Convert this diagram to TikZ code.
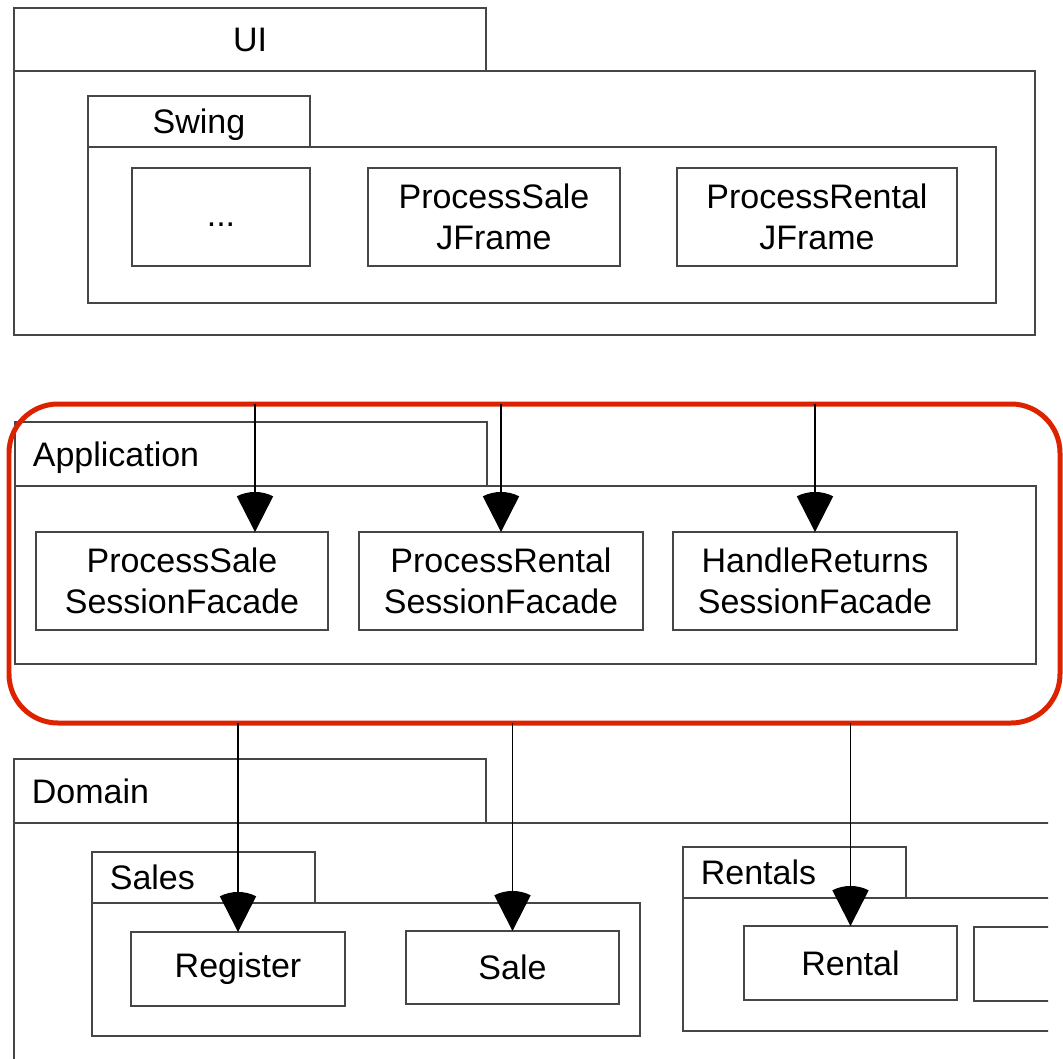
\documentclass[tikz,border=0pt]{standalone}
\usepackage{fontspec}
\setmainfont{Liberation Sans}
\usetikzlibrary{positioning}
\definecolor{hilite}{RGB}{221,34,0}
\definecolor{edgegray}{RGB}{70,70,70}
\newcommand\px{0.02cm}

% filled head with a rounded back
\pgfdeclarearrow{
  name = fan,
  setup code = {
    \pgfarrowssettipend{0pt}
    \pgfarrowssetbackend{-22.8pt}
    \pgfarrowssetlineend{-12pt}
    \pgfarrowshullpoint{0pt}{0pt}
    \pgfarrowsupperhullpoint{-22.8pt}{10.4pt}
  },
  drawing code = {
    \pgfpathmoveto{\pgfpointorigin}
    \pgfpathlineto{\pgfpointpolar{153}{22.8pt}}
    \pgfpatharc{153}{207}{22.8pt}
    \pgfpathclose
    \pgfusepathqfill
  }
}

% box size given in pixels of the sketch
\tikzset{sz/.style 2 args={minimum width=#1*\px, minimum height=#2*\px}}

\begin{document}
\begin{tikzpicture}[% one unit is one pixel of the sketch, y runs downwards
			x=\px, y=-\px,
			every node/.style={
				align=center,  		% so that "\\" breaks the class names
				font=\fontsize{19.35pt}{23.3pt}\selectfont
			},
			box/.style={draw=edgegray, line width=0.6pt, anchor=north west, inner sep=0pt, outer sep=0pt},
			pkgname/.style={inner sep=0pt, text height=13.9pt, text depth=0pt},	% centre = middle of the capitals
			focusbox/.style={draw=hilite, line width=0.1cm, rounded corners=0.98cm, anchor=north west, inner sep=0pt, outer sep=0pt},
			every edge/.style={draw,line width=0.6pt},
			>=fan
		]
		\useasboundingbox (0,0) rectangle (1063,1059);
		\begin{scope}
		\clip (0,0) rectangle (1048,1059);
		% UI
		\node[box,sz={472}{63}](uitab) at (14,8) {};
		\node[box,sz={1021}{264}](uibody) at (14,71) {};
		\node[pkgname](uiname) at (uitab) {UI};
		\node[box,sz={222}{51}](swingtab) at (88,96) {};
		\node[box,sz={908}{156}](swingbody) at (88,147) {};
		\node[pkgname](swingname) at (swingtab) {Swing};
		\node[box,sz={178}{98},text height=10.6pt,text depth=0pt](etcfrm) at (132,168) {...};
		\node[box,sz={252}{98}](salefrm) at (368,168) {ProcessSale\\JFrame};
		\node[box,sz={280}{98}](rentfrm) at (677,168) {ProcessRental\\JFrame};
		% Application
		\node[box,sz={472}{64}](apptab) at (15,422) {};
		\node[box,sz={1021}{178}](appbody) at (15,486) {};
		\node[pkgname,right=0.35cm of apptab.west](appname) {Application};
		\node[box,sz={292}{98}](salefac) at (36,532) {ProcessSale\\SessionFacade};
		\node[box,sz={284}{98}](rentfac) at (359,532) {ProcessRental\\SessionFacade};
		\node[box,sz={284}{98}](retfac) at (673,532) {HandleReturns\\SessionFacade};
		% Domain
		\node[box,sz={472}{64}](domtab) at (14,759) {};
		\node[box,sz={1100}{300}](dombody) at (14,823) {};
		\node[pkgname,right=0.35cm of domtab.west](domname) {Domain};
		\node[box,sz={223}{51}](salestab) at (92,852) {};
		\node[box,sz={548}{133}](salesbody) at (92,903) {};
		\node[pkgname,right=0.35cm of salestab.west](salesname) {Sales};
		\node[box,sz={214}{74}](register) at (131,932) {Register};
		\node[box,sz={213}{73}](sale) at (406,931) {Sale};
		\node[box,sz={223}{51}](rentalstab) at (683,847) {};
		\node[box,sz={420}{133}](rentalsbody) at (683,898) {};
		\node[pkgname,right=0.35cm of rentalstab.west](rentalsname) {Rentals};
		\node[box,sz={213}{74}](rental) at (744,926) {Rental};
		\node[box,sz={150}{74}](rentmore) at (974,927) {};
		\end{scope}
		% highlighted layer
		\node[focusbox,sz={1051}{319}](focus) at (9,404) {};
		\coordinate (salein) at (255,404);
		\path[->]
		(salein) edge (salein |- salefac.north)
		(focus.north -| rentfac) edge (rentfac)
		(focus.north -| retfac) edge (retfac)
		(focus.south -| register) edge (register)
		(focus.south -| sale) edge (sale)
		(focus.south -| rental) edge (rental)
		;
	\end{tikzpicture}
\end{document}
